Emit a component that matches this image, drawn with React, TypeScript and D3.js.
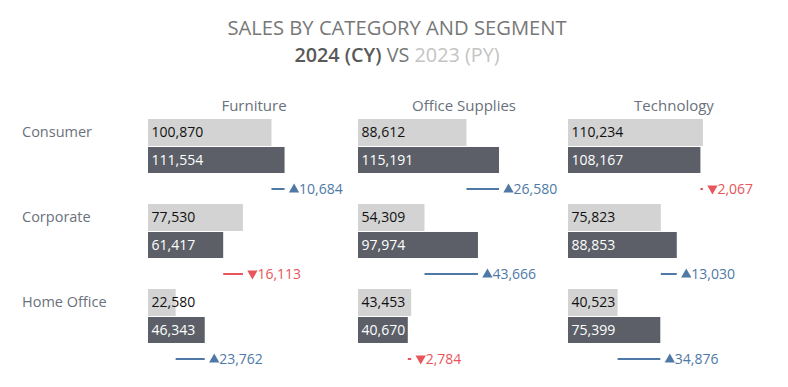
import React from 'react'
import { scaleBand, scaleLinear, format, symbol, symbolTriangle } from 'd3'

const categories = ['Furniture', 'Office Supplies', 'Technology']
const segments = ['Consumer', 'Corporate', 'Home Office']

// sales per segment, one list per category
const cyFurniture = [111554, 61417, 46343]
const cyOffice = [115191, 97974, 40670]
const cyTech = [108167, 88853, 75399]
const pyFurniture = [100870, 77530, 22580]
const pyOffice = [88612, 54309, 43453]
const pyTech = [110234, 75823, 40523]
// differences as shown in the labels (rounded from source)
const diffFurniture = [10684, -16113, 23762]
const diffOffice = [26580, 43666, -2784]
const diffTech = [-2067, 13030, 34876]

const cy = [cyFurniture, cyOffice, cyTech]
const py = [pyFurniture, pyOffice, pyTech]
const diffs = [diffFurniture, diffOffice, diffTech]

const FONT = '"Open Sans", sans-serif'
const UP = '#4e79a7'
const DOWN = '#e8555a'

export default function App() {
  const width = 788
  const height = 387
  const col = scaleBand<string>().domain(categories).range([148, 778])
  const row = scaleBand<string>().domain(segments).range([119, 374])
  const x = scaleLinear().domain([0, 120000]).range([0, 146.9])
  const fmt = format(',')
  const tri = symbol(symbolTriangle, 46)() as string

  return (
    <svg width={width} height={height} style={{ position: 'absolute', left: 0, top: 0 }}>
      <rect width={width} height={height} fill="#fff" />
      <text x={397} y={35} textAnchor="middle" fontFamily={FONT} fontSize={20.2} fill="#777">
        SALES BY CATEGORY AND SEGMENT
      </text>
      <text x={397} y={62} textAnchor="middle" fontFamily={FONT} fontSize={19.8}>
        <tspan fill="#595959" fontWeight={600}>2024 (CY)</tspan>
        <tspan fill="#777"> VS </tspan>
        <tspan fill="#c4c4c4">2023 (PY)</tspan>
      </text>

      {categories.map(c => (
        <text key={c} x={(col(c) as number) + 106} y={111} textAnchor="middle"
          fontFamily={FONT} fontSize={15} fill="#6a717c">{c}</text>
      ))}
      {segments.map(s => (
        <text key={s} x={22} y={(row(s) as number) + 18} fontFamily={FONT} fontSize={14.5} fill="#6a717c">{s}</text>
      ))}

      {categories.map((c, ci) => segments.map((s, si) => {
        const x0 = col(c) as number
        const y0 = row(s) as number
        const p = py[ci][si]
        const v = cy[ci][si]
        const d = diffs[ci][si]
        const color = d >= 0 ? UP : DOWN
        const lo = Math.min(x(p), x(v))
        const hi = Math.max(x(p), x(v))
        return (
          <g key={c + s} transform={`translate(${x0},${y0})`}>
            <rect x={0} y={0} width={x(p)} height={27} fill="#d3d3d3" />
            <text x={3.5} y={18} fontFamily={FONT} fontSize={14} fill="#111">{fmt(p)}</text>
            <rect x={0} y={28} width={x(v)} height={26} fill="#5c5f68" />
            <text x={3.5} y={46} fontFamily={FONT} fontSize={14} fill="#fff">{fmt(v)}</text>
            <line x1={lo} x2={hi} y1={70} y2={70} stroke={color} strokeWidth={2} />
            <path d={tri} fill={color}
              transform={`translate(${hi + 9.5},${d >= 0 ? 70.5 : 69.5}) rotate(${d >= 0 ? 0 : 180})`} />
            <text x={hi + 14.5} y={75} fontFamily={FONT} fontSize={14} fill={color}>
              {fmt(Math.abs(d))}
            </text>
          </g>
        )
      }))}
    </svg>
  )
}
